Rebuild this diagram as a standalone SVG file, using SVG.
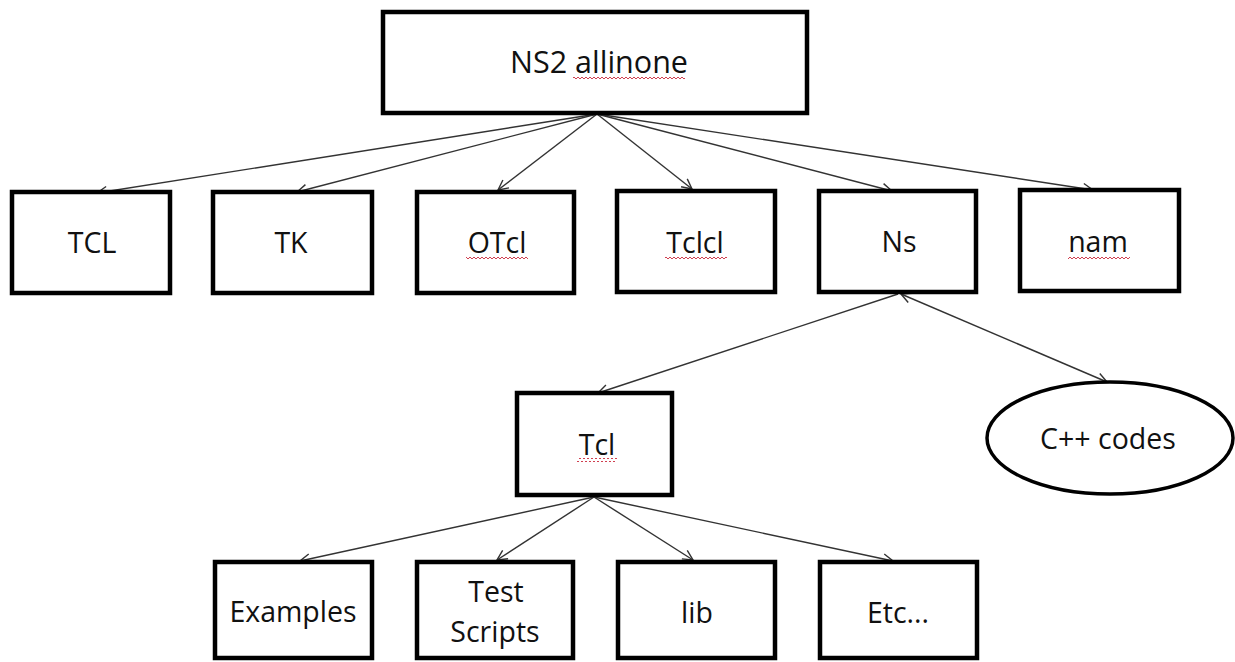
<svg xmlns="http://www.w3.org/2000/svg" width="1235" height="662" viewBox="0 0 1235 662">
  <style>
    .box { fill: #ffffff; stroke: #000000; stroke-width: 4.5; }
    .oval { fill: #ffffff; stroke: #000000; stroke-width: 3.5; }
    .lbl { font-family: "Open Sans", "Noto Sans", "Liberation Sans", sans-serif; font-size: 28.5px; fill: #111111; text-anchor: middle; }
    .big { font-size: 30.5px; }
    .edge { stroke: #333333; stroke-width: 1.4; fill: none; }
    .squig { stroke: #d04050; stroke-width: 1; fill: none; }
  </style>
  <defs>
    <marker id="arrow" viewBox="0 0 12 12" refX="11" refY="6" markerWidth="12" markerHeight="12" markerUnits="userSpaceOnUse" orient="auto-start-reverse">
      <path d="M1,1 L11,6 L1,11" fill="none" stroke="#333333" stroke-width="1.4"/>
    </marker>
    <pattern id="wave" width="4" height="4" patternUnits="userSpaceOnUse">
      <path d="M0,3 L2,1 L4,3" class="squig"/>
    </pattern>
  </defs>
  <rect width="1235" height="662" fill="#ffffff"/>

  <!-- connectors -->
  <g id="connectors">
    <line class="edge" x1="597" y1="114" x2="97" y2="193" marker-end="url(#arrow)"/>
    <line class="edge" x1="597" y1="114" x2="297" y2="192" marker-end="url(#arrow)"/>
    <line class="edge" x1="597" y1="114" x2="498" y2="190" marker-end="url(#arrow)"/>
    <line class="edge" x1="597" y1="114" x2="692" y2="189" marker-end="url(#arrow)"/>
    <line class="edge" x1="597" y1="114" x2="892" y2="191" marker-end="url(#arrow)"/>
    <line class="edge" x1="597" y1="114" x2="1093" y2="190" marker-end="url(#arrow)"/>
    <line class="edge" x1="898" y1="294" x2="598" y2="393" marker-end="url(#arrow)"/>
    <line class="edge" x1="901" y1="294" x2="1107" y2="382" marker-start="url(#arrow)" marker-end="url(#arrow)"/>
    <line class="edge" x1="594" y1="497" x2="300" y2="561" marker-end="url(#arrow)"/>
    <line class="edge" x1="594" y1="497" x2="497" y2="560" marker-end="url(#arrow)"/>
    <line class="edge" x1="594" y1="497" x2="693" y2="560" marker-end="url(#arrow)"/>
    <line class="edge" x1="594" y1="497" x2="893" y2="561" marker-end="url(#arrow)"/>
  </g>

  <g id="ns2-allinone">
    <rect class="box" x="383" y="12" width="424" height="101"/>
    <text class="lbl big" x="599" y="73">NS2 allinone</text>
    <rect x="573" y="76" width="112" height="4" fill="url(#wave)"/>
  </g>

  <g id="tcl-top">
    <rect class="box" x="12" y="192" width="158" height="101"/>
    <text class="lbl" x="92" y="253">TCL</text>
  </g>
  <g id="tk">
    <rect class="box" x="213" y="192" width="159" height="101"/>
    <text class="lbl" x="291" y="253">TK</text>
  </g>
  <g id="otcl">
    <rect class="box" x="417" y="192" width="157" height="101"/>
    <text class="lbl" x="497" y="253">OTcl</text>
    <rect x="466" y="256" width="62" height="4" fill="url(#wave)"/>
  </g>
  <g id="tclcl">
    <rect class="box" x="617" y="191" width="158" height="101"/>
    <text class="lbl" x="695" y="253">Tclcl</text>
    <rect x="665" y="256" width="62" height="4" fill="url(#wave)"/>
  </g>
  <g id="ns">
    <rect class="box" x="819" y="191" width="157" height="101"/>
    <text class="lbl" x="899" y="252">Ns</text>
  </g>
  <g id="nam">
    <rect class="box" x="1020" y="190" width="159" height="101"/>
    <text class="lbl" x="1098" y="252">nam</text>
    <rect x="1068" y="255" width="62" height="4" fill="url(#wave)"/>
  </g>

  <g id="tcl-sub">
    <rect class="box" x="517" y="393" width="155" height="102"/>
    <text class="lbl" x="597" y="455">Tcl</text>
    <rect x="577" y="458" width="40" height="4" fill="url(#wave)"/>
  </g>

  <g id="cpp-codes">
    <ellipse class="oval" cx="1110" cy="438" rx="123" ry="56"/>
    <text class="lbl" x="1108" y="449">C++ codes</text>
  </g>

  <g id="examples">
    <rect class="box" x="215" y="562" width="157" height="96"/>
    <text class="lbl" x="293" y="622">Examples</text>
  </g>
  <g id="test-scripts">
    <rect class="box" x="417" y="562" width="156" height="96"/>
    <text class="lbl" x="496" y="602">Test</text>
    <text class="lbl" x="495" y="642">Scripts</text>
  </g>
  <g id="lib">
    <rect class="box" x="618" y="562" width="157" height="96"/>
    <text class="lbl" x="697" y="623">lib</text>
  </g>
  <g id="etc">
    <rect class="box" x="820" y="562" width="157" height="96"/>
    <text class="lbl" x="898" y="623">Etc...</text>
  </g>
</svg>
